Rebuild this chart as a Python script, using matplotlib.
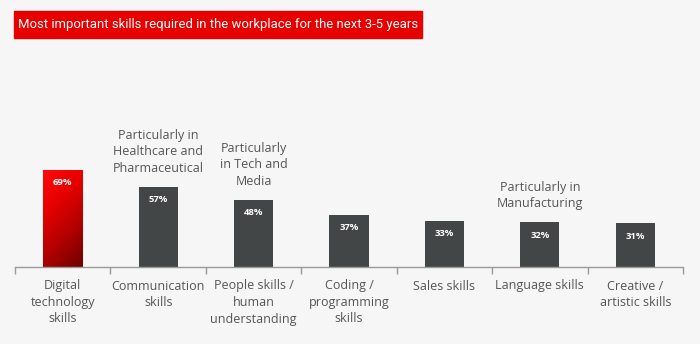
import numpy as np
import matplotlib
matplotlib.use("Agg")
import matplotlib.pyplot as plt
from matplotlib.patches import Rectangle
from matplotlib.colors import LinearSegmentedColormap

# Most important skills required in the workplace for the next 3-5 years
categories = ["Digital\ntechnology\nskills", "Communication\nskills", "People skills /\nhuman\nunderstanding",
              "Coding /\nprogramming\nskills", "Sales skills", "Language skills", "Creative /\nartistic skills"]
values = [69, 57, 48, 37, 33, 32, 31]
value_labels = ["69%", "57%", "48%", "37%", "33%", "32%", "31%"]
notes = {1: "Particularly in\nHealthcare and\nPharmaceutical",
         2: "Particularly\nin Tech and\nMedia",
         5: "Particularly in\nManufacturing"}
title = "Most important skills required in the workplace for the next 3-5 years"

W, H = 700, 344
fig = plt.figure(figsize=(W / 100, H / 100), dpi=100)
fig.patch.set_facecolor("#f6f6f6")

# axes placed in pixel terms: x 15..683, baseline at y=267 (from top)
px_per_pct = 1.406
top_px = 100
ax = fig.add_axes([15 / W, (H - 267) / H, (683 - 15) / W, (267 - top_px) / H])
ax.set_facecolor("none")

x = np.arange(len(values))
bw = 0.41
colors = ["none"] + ["#434646"] * (len(values) - 1)
bars = ax.bar(x, values, width=bw, color=colors, zorder=2)

# red gradient for first bar, bright at top, dark bottom right
cmap = LinearSegmentedColormap.from_list("redgrad", ["#ff0a0a", "#e60000", "#b00000", "#6e0000"])
yy, xx = np.mgrid[0:1:200j, 0:1:50j]
grad = yy * 0.75 + xx * 0.3
b0 = bars[0]
im = ax.imshow(grad, cmap=cmap, vmin=0, vmax=1.05, aspect="auto", origin="upper",
               extent=[b0.get_x(), b0.get_x() + bw, 0, values[0]], zorder=2)
im.set_clip_path(b0)
ax.set_xlim(-0.5, len(values) - 0.5)
ax.set_ylim(0, (267 - top_px) / px_per_pct)

for i, v in enumerate(values):
    ax.text(x[i], v - 13 / px_per_pct, value_labels[i], ha="center", va="center",
            color="white", fontsize=6.8, fontweight="bold", family="Open Sans", zorder=3)

for i, txt in notes.items():
    ax.text(x[i], values[i] + 12 / px_per_pct, txt, ha="center", va="bottom",
            color="#555555", fontsize=9, family="Open Sans", linespacing=1.35)

for s in ["top", "right", "left"]:
    ax.spines[s].set_visible(False)
ax.spines["bottom"].set_color("#9a9a9a")
ax.spines["bottom"].set_linewidth(1)
ax.set_yticks([])
ax.set_xticks(x)
ax.set_xticklabels(categories, fontsize=9, color="#555555", family="Open Sans", linespacing=1.35)
ax.tick_params(axis="x", which="major", length=0, pad=9)
ax.set_xticks(np.arange(len(values) + 1) - 0.5, minor=True)
ax.tick_params(axis="x", which="minor", length=5, color="#9a9a9a", width=1)

# title banner
fig.patches.append(Rectangle((14 / W, (H - 38) / H), (422 - 14) / W, 27 / H,
                             transform=fig.transFigure, color="#e60000", zorder=0))
t = fig.text(18 / W, (H - 24.5) / H, title, color="white", fontsize=11, va="center", ha="left",
             family="Roboto")
# shrink font so the title fits inside the banner
fig.canvas.draw()
wpx = t.get_window_extent().width
t.set_fontsize(11 * 398 / wpx)

fig.savefig("out.png", dpi=100, facecolor=fig.get_facecolor())
